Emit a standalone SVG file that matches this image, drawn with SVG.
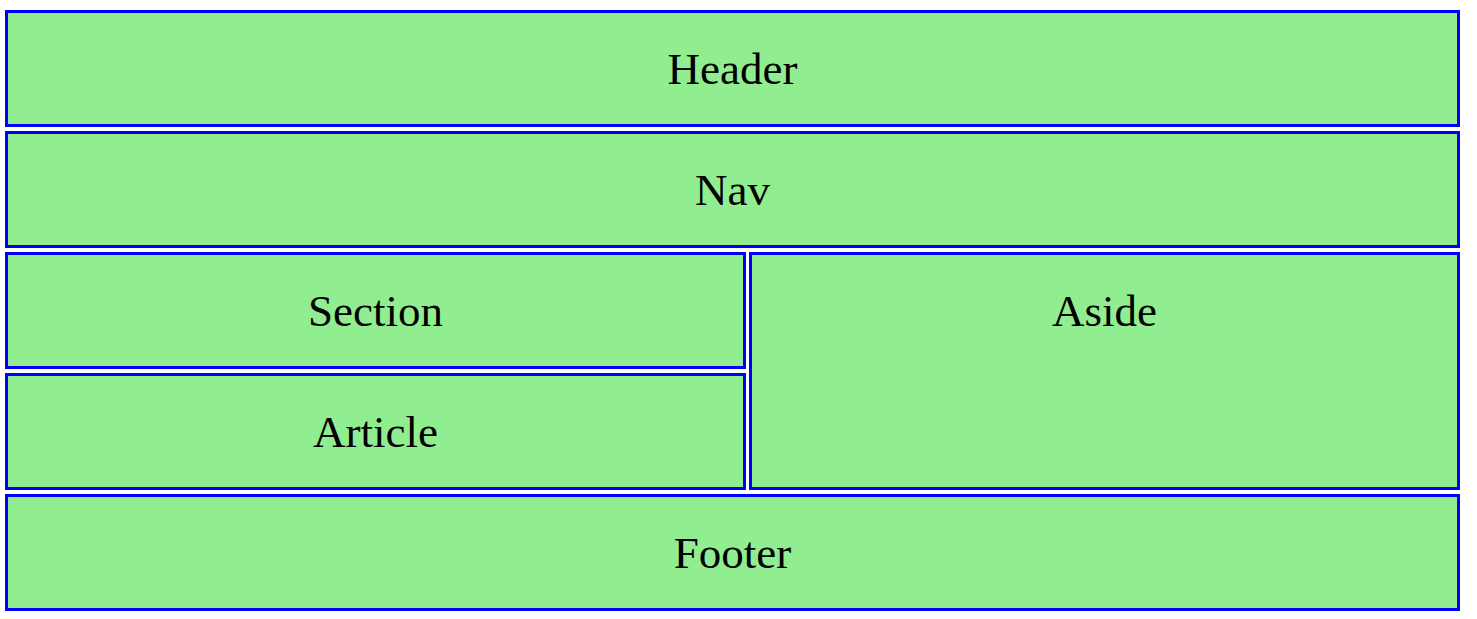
<svg xmlns="http://www.w3.org/2000/svg" width="1477" height="619" viewBox="0 0 1477 619">
<style>
.box{fill:#90ee90;stroke:#0000ff;stroke-width:3}
.lbl{font-family:"Liberation Serif","Times New Roman",serif;font-size:45px;fill:#000;text-anchor:middle}
</style>
<rect width="1477" height="619" fill="#ffffff"/>
<g id="header"><rect class="box" x="6.5" y="11.5" width="1452" height="114"/><text class="lbl" x="732.5" y="84">Header</text></g>
<g id="nav"><rect class="box" x="6.5" y="132.5" width="1452" height="114"/><text class="lbl" x="732.5" y="205">Nav</text></g>
<g id="section"><rect class="box" x="6.5" y="253.5" width="738" height="114"/><text class="lbl" x="375.5" y="326">Section</text></g>
<g id="article"><rect class="box" x="6.5" y="374.5" width="738" height="114"/><text class="lbl" x="375.5" y="447">Article</text></g>
<g id="aside"><rect class="box" x="750.5" y="253.5" width="708" height="235"/><text class="lbl" x="1104.5" y="326">Aside</text></g>
<g id="footer"><rect class="box" x="6.5" y="495.5" width="1452" height="114"/><text class="lbl" x="732.5" y="568">Footer</text></g>
<g id="connectors"></g>
</svg>
